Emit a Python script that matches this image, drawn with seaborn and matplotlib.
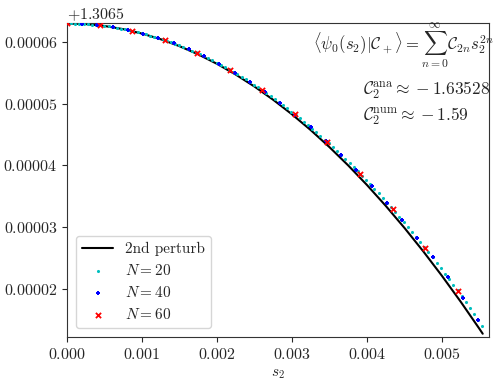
import numpy as np
import pandas as pd
import seaborn as sns
import matplotlib
matplotlib.use("Agg")
import matplotlib.pyplot as plt
from matplotlib.ticker import ScalarFormatter

# ---------------- data (y shown relative to OFFSET, in units of 1e-6) -------------
OFFSET = 1.3065

# analytic 2nd-order perturbation curve
s_pert = [0.0, 0.00025, 0.0005, 0.00075, 0.001, 0.00125, 0.0015, 0.00175, 0.002,
          0.00225, 0.0025, 0.00275, 0.003, 0.00325, 0.0035, 0.00375, 0.004,
          0.00425, 0.0045, 0.00475, 0.005, 0.00525, 0.0055, 0.005543]
y_pert = [63.000, 62.898, 62.591, 62.080, 61.365, 60.445, 59.321, 57.992, 56.459,
          54.721, 52.780, 50.633, 48.282, 45.727, 42.968, 40.004, 36.836,
          33.463, 29.886, 26.104, 22.118, 17.928, 13.533, 12.756]

# N = 20 numerical points
s_n20 = [k * 0.0000554 for k in range(101)]
y_n20 = [63.000, 62.995, 62.980, 62.956, 62.922, 62.878, 62.824, 62.760, 62.687, 62.604,
         62.511, 62.408, 62.296, 62.173, 62.041, 61.899, 61.748, 61.586, 61.415, 61.234,
         61.043, 60.843, 60.632, 60.412, 60.182, 59.942, 59.693, 59.434, 59.165, 58.886,
         58.597, 58.299, 57.990, 57.672, 57.345, 57.007, 56.660, 56.303, 55.936, 55.559,
         55.172, 54.776, 54.370, 53.954, 53.529, 53.093, 52.648, 52.193, 51.728, 51.254,
         50.770, 50.275, 49.772, 49.258, 48.734, 48.201, 47.658, 47.105, 46.543, 45.970,
         45.388, 44.796, 44.194, 43.583, 42.962, 42.330, 41.690, 41.039, 40.378, 39.708,
         39.028, 38.338, 37.639, 36.929, 36.210, 35.481, 34.743, 33.994, 33.236, 32.468,
         31.690, 30.902, 30.105, 29.298, 28.481, 27.654, 26.817, 25.971, 25.115, 24.249,
         23.373, 22.488, 21.592, 20.687, 19.773, 18.848, 17.914, 16.969, 16.015, 15.052,
         14.078]

# N = 40 numerical points
s_n40 = [k * 0.0002031 for k in range(28)]
y_n40 = [63.000, 62.934, 62.737, 62.408, 61.947, 61.355, 60.632, 59.776, 58.789, 57.671,
         56.421, 55.039, 53.526, 51.881, 50.105, 48.197, 46.158, 43.987, 41.684, 39.250,
         36.684, 33.987, 31.158, 28.197, 25.105, 21.881, 18.526, 15.039]

# N = 60 numerical points
s_n60 = [k * 0.0004341 for k in range(13)]
y_n60 = [63.000, 62.70, 61.80, 60.29, 58.19, 55.49, 52.18, 48.27, 43.76, 38.65,
         32.94, 26.63, 19.72]

labels = ["2nd perturb", r"$N=20$", r"$N=40$", r"$N=60$"]
ann_main = r"$\langle\psi_0(s_2)|\mathcal{C}_+\rangle = \sum_{n=0}^{\infty}\mathcal{C}_{2n}s_2^{2n}$"
ann_ana = r"$\mathcal{C}_2^{\rm ana}\approx -1.63528$"
ann_num = r"$\mathcal{C}_2^{\rm num}\approx -1.59$"


def frame(s, y):
    return pd.DataFrame({"s": s, "y": OFFSET + np.asarray(y) * 1e-6})


df_p = frame(s_pert, y_pert)
df20 = frame(s_n20, y_n20)
df40 = frame(s_n40, y_n40)
df60 = frame(s_n60, y_n60)

# ---------------- style -------------
sns.set_style("ticks")
plt.rcParams["font.family"] = ["serif"]
plt.rcParams["font.serif"] = ["cmr10", "DejaVu Serif"]
plt.rcParams["mathtext.fontset"] = "cm"
plt.rcParams["axes.formatter.use_mathtext"] = True
plt.rcParams["axes.unicode_minus"] = True
plt.rcParams["font.size"] = 11
plt.rcParams["axes.edgecolor"] = "#333333"

fig = plt.figure(figsize=(4.99, 3.88), dpi=100)
ax = fig.add_axes([0.1343, 0.1307, 0.8463, 0.8093])

sns.lineplot(data=df_p, x="s", y="y", color="black", lw=1.5, label=labels[0], ax=ax,
             sort=False, estimator=None)
sns.scatterplot(data=df20, x="s", y="y", color="c", marker="o", s=5, linewidth=0,
                label=labels[1], ax=ax, zorder=3)
sns.scatterplot(data=df40, x="s", y="y", color="b", marker="P", s=12, linewidth=0,
                label=labels[2], ax=ax, zorder=4)
sns.scatterplot(data=df60, x="s", y="y", color="r", marker="x", s=14, linewidth=1.3,
                label=labels[3], ax=ax, zorder=5)

ax.set_xlim(0, 0.005631)
ax.set_ylim(OFFSET + 12.18e-6, OFFSET + 63.03e-6)
yfmt = ScalarFormatter(useOffset=OFFSET, useMathText=True)
yfmt.set_scientific(False)
ax.yaxis.set_major_formatter(yfmt)
ax.set_xlabel(r"$s_2$", fontsize=11)
ax.set_ylabel("")
for sp in ax.spines.values():
    sp.set_visible(True)
ax.tick_params(labelsize=11.5, direction="out")
ax.yaxis.get_offset_text().set_fontsize(11.5)

ax.text(1.011, 0.915, ann_main, transform=ax.transAxes, ha="right", va="baseline",
        fontsize=12, clip_on=False)
ax.text(0.702, 0.7717, ann_ana, transform=ax.transAxes, ha="left", va="baseline",
        fontsize=12.5)
ax.text(0.702, 0.689, ann_num, transform=ax.transAxes, ha="left", va="baseline",
        fontsize=12.5)

ax.legend(loc="lower left", fontsize=11, frameon=True, borderaxespad=0.6,
          labelspacing=0.45)

fig.savefig("out.png", dpi=100)
